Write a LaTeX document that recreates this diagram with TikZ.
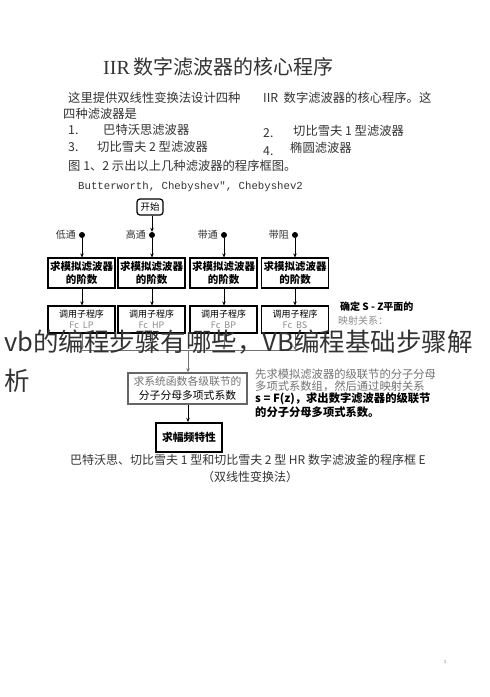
\documentclass[tikz,border=0pt]{standalone}
\usepackage{fontspec}
\setmainfont{Liberation Serif}
\setmonofont{Liberation Mono}
\newfontfamily\cjk{Noto Sans CJK SC}
\usetikzlibrary{arrows.meta}
\newcommand\fsz[2]{\fontsize{#1}{#2}\selectfont}
\definecolor{ink}{HTML}{333333}
\begin{document}
\begin{tikzpicture}[x=1pt,y=-1pt,
  txt/.style={anchor=west,inner sep=0pt,text=ink,font=\cjk\fsz{12.3}{14}},
  lbl/.style={anchor=east,inner sep=0pt,text=ink,font=\cjk\fsz{10}{12}},
  dotn/.style={circle,fill=black,inner sep=0pt,minimum size=6pt},
  orderbox/.style={draw,line width=1.2pt,minimum width=67pt,minimum height=30pt,inner sep=1pt,align=center,font=\cjk\bfseries\fsz{10.5}{13}},
  callbox/.style={draw,line width=1.2pt,minimum width=67pt,minimum height=27pt,inner sep=1pt,align=center,font=\cjk\fsz{9}{11}},
  arr/.style={line width=0.9pt,-{Stealth[length=4pt,width=3.5pt]}},
  garr/.style={line width=0.9pt,draw=black!55,-{Stealth[length=4pt,width=3.5pt]}},
  note/.style={anchor=west,inner sep=0pt,font=\cjk\fsz{11.3}{13}},
  wm/.style={anchor=west,inner sep=0pt,text=black!80,font=\cjk\fsz{25.5}{30}}
]
\useasboundingbox[fill=white] (0,0) rectangle (490,697);

% title and paragraph
\node[anchor=west,inner sep=0pt,text=ink] (title) at (103,67) {\fsz{20}{24}IIR\,\cjk 数字滤波器的核心程序};
\node[txt] (p1a) at (68,98) {这里提供双线性变换法设计四种};
\node[txt] (p1b) at (263,98) {IIR\ \ 数字滤波器的核心程序。这};
\node[txt] (p2) at (63,114) {四种滤波器是};
\node[txt] (n1) at (68,130) {1.};
\node[txt] (t1) at (103,130) {巴特沃思滤波器};
\node[txt] (n2) at (263,133) {2.};
\node[txt] (t2) at (293,131) {切比雪夫 1 型滤波器};
\node[txt] (n3) at (68,147) {3.};
\node[txt] (t3) at (97,147) {切比雪夫 2 型滤波器};
\node[txt] (n4) at (263,151) {4.};
\node[txt] (t4) at (290,148) {椭圆滤波器};
\node[txt] (p5) at (68,166) {图 1、2 示出以上几种滤波器的程序框图。};
\node[anchor=west,inner sep=0pt,text=ink,font=\ttfamily\fsz{10.7}{12}] (bw) at (78,187) {Butterworth, Chebyshev", Chebyshev2};

% flowchart
\node[draw,rounded corners=3pt,line width=1.2pt,minimum width=26pt,minimum height=16pt,inner sep=1pt,font=\cjk\fsz{9.5}{11}] (start) at (150,207) {开始};

\node[dotn] (d1) at (82,235) {};
\node[dotn] (d2) at (152,235) {};
\node[dotn] (d3) at (224,235) {};
\node[dotn] (d4) at (295,235) {};
\node[lbl] (l1) at (76,235) {低通};
\node[lbl] (l2) at (146,235) {高通};
\node[lbl] (l3) at (218,235) {带通};
\node[lbl] (l4) at (289,235) {带阻};

\node[orderbox] (o1) at (81.5,273) {求模拟滤波器\\的阶数};
\node[orderbox] (o2) at (151.5,273) {求模拟滤波器\\的阶数};
\node[orderbox] (o3) at (223.5,273) {求模拟滤波器\\的阶数};
\node[orderbox] (o4) at (295,273) {求模拟滤波器\\的阶数};

\node[callbox] (c1) at (81.5,319.5) {调用子程序\\{\color{black!45}Fc\ \ LP}};
\node[callbox] (c2) at (151.5,319.5) {调用子程序\\{\color{black!45}Fc\ \ HP}};
\node[callbox] (c3) at (223.5,319.5) {调用子程序\\{\color{black!45}Fc\ \ BP}};
\node[callbox] (c4) at (295,319.5) {调用子程序\\{\color{black!45}Fc\ \ BS}};

\draw[arr] (start.south -| d2) -- (d2);
\foreach \i in {1,2,3,4}{
  \draw[arr] (d\i) -- (d\i |- o\i.north);
  \draw[arr] (d\i |- o\i.south) -- (d\i |- c\i.north);
}

\coordinate (b1) at (82,350);
\coordinate (b2) at (152,350);
\coordinate (b3) at (224,350);
\coordinate (b4) at (295,350);
\coordinate (bm) at (188,350);
\foreach \i in {1,2,3,4}{
  \draw[garr] (b\i |- c\i.south) -- (b\i);
}
\draw[line width=0.9pt,draw=black!55] (b1) -- (b4);

\node[draw=black!60,line width=1.4pt,minimum width=119pt,minimum height=31pt,inner sep=1pt,align=center,font=\cjk\fsz{10.8}{14}] (sys) at (187.5,388.5) {{\color{black!55}求系统函数各级联节的}\\分子分母多项式系数};
\node[draw,line width=2pt,minimum width=66pt,minimum height=29pt,inner sep=1pt,font=\cjk\bfseries\fsz{10.8}{13}] (mag) at (189,437.5) {求幅频特性};

\draw[garr] (bm) -- (bm |- sys.north);
\draw[arr] (sys.south -| bm) -- (bm |- mag.north);

% side notes
\node[note,font=\cjk\bfseries\fsz{10}{12}] (sz1) at (340,307) {确定 S - Z平面的};
\node[note,text=black!45,font=\cjk\fsz{10}{12}] (sz2) at (338,321) {映射关系：};
\node[note,text=black!55] (m1) at (255,374) {先求模拟滤波器的级联节的分子分母};
\node[note,text=black!55] (m2) at (255,386) {多项式系数组，然后通过映射关系};
\node[note,font=\cjk\bfseries\fsz{11.3}{13}] (m3) at (255,399) {s = F(z)，求出数字滤波器的级联节};
\node[note,font=\cjk\bfseries\fsz{11.3}{13}] (m4) at (255,412) {的分子分母多项式系数。};

% caption
\node[inner sep=0pt,text=ink,font=\cjk\fsz{12}{14}] (cap1) at (248,460) {巴特沃思、切比雪夫 1 型和切比雪夫 2 型 HR 数字滤波釜的程序框 E};
\node[inner sep=0pt,text=ink,font=\cjk\fsz{12}{14}] (cap2) at (250,477) {（双线性变换法）};

% page number
\node[inner sep=0pt,text=black!60,font=\fsz{5}{6}] (pg) at (445,662) {1};

% overlaid headline
\node[wm] (wm1) at (4,342) {vb的编程步骤有哪些，VB编程基础步骤解};
\node[wm] (wm2) at (4,381) {析};
\end{tikzpicture}
\end{document}
